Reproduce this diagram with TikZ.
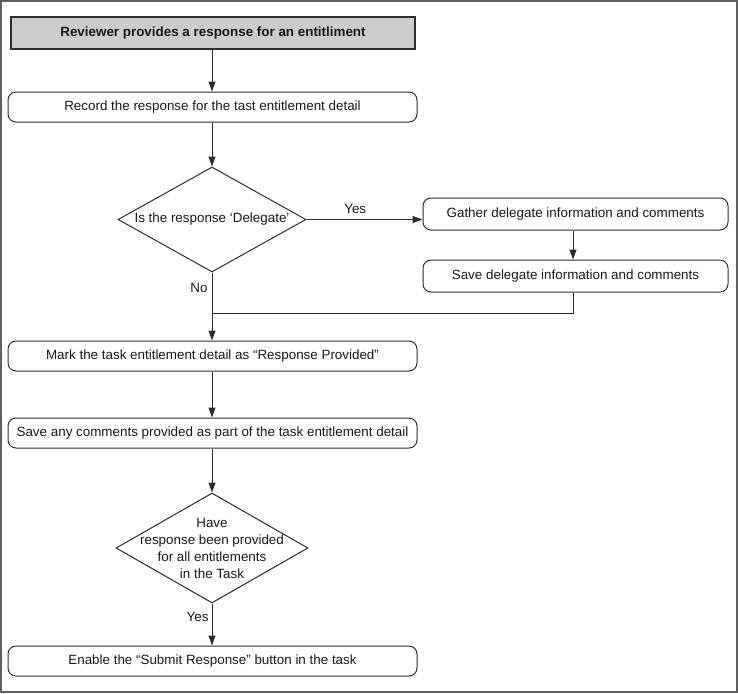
\documentclass[tikz,border=0pt]{standalone}
\usepackage{fontspec}
\setmainfont{Liberation Sans}
\usetikzlibrary{shapes.geometric,arrows.meta}
\definecolor{linec}{RGB}{45,45,45}
\definecolor{framec}{RGB}{95,95,95}
\definecolor{headfill}{RGB}{204,204,204}
\definecolor{txt}{RGB}{25,25,25}
\begin{document}
\begin{tikzpicture}[x=1pt,y=-1pt,
  every node/.style={font=\fontsize{13.4}{17}\selectfont, text=txt},
  headbox/.style={draw=linec, line width=1.2pt, fill=headfill, minimum width=404pt, minimum height=32pt, inner sep=0pt, font=\fontsize{13.4}{17}\selectfont\bfseries},
  procbox/.style={draw=linec, line width=1pt, rounded corners=8pt, inner sep=0pt},
  diabox/.style={draw=linec, line width=1pt, shape=diamond, inner sep=0pt},
  conn/.style={draw=linec, line width=1pt},
  arr/.style={conn, -{Triangle[length=10pt,width=7pt]}},
  lbl/.style={inner sep=0pt}
]
\useasboundingbox (0,0) rectangle (738,693);
\draw[framec, line width=1.6pt] (0.8,0.8) rectangle (737.2,692.2);

\node[headbox] (h) at (213,33) {Reviewer provides a response for an entitliment};
\node[procbox, minimum width=409pt, minimum height=30pt] (b2) at (212.5,107) {Record the response for the tast entitlement detail};
\node[diabox, minimum width=188pt, minimum height=105pt] (d1) at (212,219.5) {};
\node[lbl] at (d1.center) {Is the response ‘Delegate’};
\node[procbox, minimum width=305pt, minimum height=32pt] (b3) at (575.5,214) {Gather delegate information and comments};
\node[procbox, minimum width=305pt, minimum height=32pt] (b4) at (575.5,276) {Save delegate information and comments};
\node[procbox, minimum width=409pt, minimum height=30pt] (b5) at (212.5,356) {Mark the task entitlement detail as “Response Provided”};
\node[procbox, minimum width=409pt, minimum height=30pt] (b6) at (212.5,433) {Save any comments provided as part of the task entitlement detail};
\node[diabox, minimum width=192pt, minimum height=110pt] (d2) at (212,548) {};
\node[lbl, align=center] at (d2.center) {Have\\response been provided\\for all entitlements\\in the Task};
\node[procbox, minimum width=409pt, minimum height=30pt] (b7) at (212.5,661) {Enable the “Submit Response” button in the task};

\coordinate (m) at (212,313);
\coordinate (ba) at (573,230);
\coordinate (bb) at (573,292);

\draw[arr] (h.south -| m) -- (b2.north -| m);
\draw[arr] (b2.south -| m) -- (d1.north);
\draw[arr] (d1.east) -- (d1.east -| b3.west) node[pos=0.42, above=5pt, lbl] {Yes};
\draw[arr] (b3.south -| ba) -- (b4.north -| ba);
\draw[conn] (b4.south -| bb) |- (m);
\draw[conn] (d1.south) -- (m) node[pos=0.38, left=4pt, lbl] {No};
\draw[arr] (m) -- (b5.north -| m);
\draw[arr] (b5.south -| m) -- (b6.north -| m);
\draw[arr] (b6.south -| m) -- (d2.north);
\draw[arr] (d2.south) -- (b7.north -| d2.south) node[pos=0.33, left=3pt, lbl] {Yes};
\end{tikzpicture}
\end{document}
